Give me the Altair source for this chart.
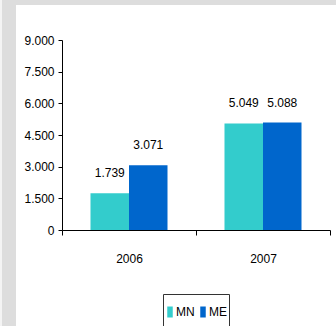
import altair as alt
import pandas as pd

years = ["2006", "2007"]
series = ["MN", "ME"]
mn_values = [1739, 5049]
me_values = [3071, 5088]
y_ticks = [0, 1500, 3000, 4500, 6000, 7500, 9000]
colors = ["#33CCCC", "#0066CC"]

rows = []
for i, yr in enumerate(years):
    rows.append({"year": yr, "series": "MN", "value": mn_values[i]})
    rows.append({"year": yr, "series": "ME", "value": me_values[i]})
df = pd.DataFrame(rows)

FONT = "Liberation Sans, Arial"
FS = 12

one = pd.DataFrame({"a": [0]})
panel = alt.Chart(one).mark_rect(color="white").encode(
    x=alt.value(-46), x2=alt.value(274), y=alt.value(-35), y2=alt.value(286)
)
strip = alt.Chart(one).mark_rect(color="#f4f4f4").encode(
    x=alt.value(-62), x2=alt.value(-60), y=alt.value(-40), y2=alt.value(286)
)
legend_box = alt.Chart(one).mark_rect(fill="white", stroke="#333", strokeWidth=1).encode(
    x=alt.value(101.5), x2=alt.value(167.5), y=alt.value(254.5), y2=alt.value(292)
)

base = alt.Chart(df).transform_calculate(
    label="replace(format(datum.value, ','), ',', '.')"
)

x_enc = alt.X(
    "year:N",
    sort=years,
    scale=alt.Scale(paddingInner=0, paddingOuter=0),
    axis=alt.Axis(
        title=None, tickBand="extent", labelAngle=0, labelFontSize=FS,
        labelFont=FONT, labelColor="#000", labelPadding=18, tickSize=5,
        domainColor="#000", tickColor="#000", zindex=1,
    ),
)
xoff = alt.XOffset("series:N", sort=series, scale=alt.Scale(paddingInner=0, paddingOuter=0.74))
y_axis = alt.Axis(
    title=None, values=y_ticks, grid=False, tickSize=4, labelFontSize=FS,
    labelFont=FONT, labelColor="#000", labelPadding=4, domainColor="#000",
    tickColor="#000", zindex=1, labelOverlap=False, tickCount=7,
    labelExpr="datum.value == 0 ? '0' : replace(format(datum.value, ','), ',', '.')",
)
y_enc = alt.Y("value:Q", scale=alt.Scale(domain=[0, 9000], nice=False), axis=y_axis)

bars = base.mark_bar().encode(
    x=x_enc,
    xOffset=xoff,
    y=y_enc,
    color=alt.Color(
        "series:N",
        sort=series,
        scale=alt.Scale(domain=series, range=colors),
        legend=alt.Legend(
            title=None, orient="none", legendX=102, legendY=266,
            direction="horizontal", padding=0,
            symbolType="M-0.5,-1L0.5,-1L0.5,1L-0.5,1Z",
            symbolSize=121, symbolStrokeWidth=0, labelFontSize=FS, labelFont=FONT,
            labelColor="#000", columnPadding=2, labelOffset=0,
        ),
    ),
)

texts = base.mark_text(fontSize=FS, font=FONT, color="#000", baseline="middle", dy=-20).encode(
    x=x_enc,
    xOffset=xoff,
    y=y_enc,
    text="label:N",
)

chart = alt.layer(strip, panel, legend_box, bars, texts).properties(
    width=268,
    height=190,
    autosize=alt.AutoSizeParams(type="none"),
    padding={"left": 62, "top": 40, "right": 6, "bottom": 96},
    background="#dddddd",
).configure_view(stroke=None).configure_axisY(labelOverlap=False)

chart.save("out.html", embed_options={"renderer": "svg", "actions": False})
